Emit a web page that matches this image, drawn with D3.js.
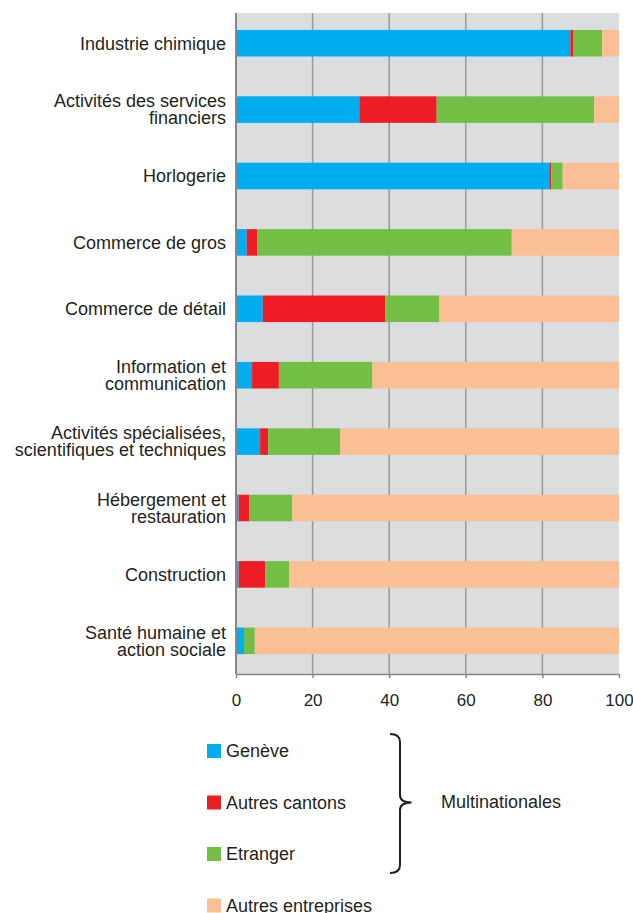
<!DOCTYPE html>
<html>
<head>
<meta charset="utf-8">
<script src="https://cdn.jsdelivr.net/npm/d3@7"></script>
<style>
  body { margin: 0; background: #fff; }
  svg { font-family: "Liberation Sans", Arial, sans-serif; }
</style>
</head>
<body>
<div id="okvir"></div>
<script>
const categories = [
  "Industrie chimique",
  "Activités des services|financiers",
  "Horlogerie",
  "Commerce de gros",
  "Commerce de détail",
  "Information et|communication",
  "Activités spécialisées,|scientifiques et techniques",
  "Hébergement et|restauration",
  "Construction",
  "Santé humaine et|action sociale"
]
const geneve        = [87.3, 32.2, 81.8, 2.8, 7.0, 4.2, 6.3, 0.7, 0.7, 2.1]
const autresCantons = [0.7, 20.2, 0.5, 2.7, 32.0, 7.0, 2.1, 2.7, 6.9, 0]
const etranger      = [7.6, 41.1, 3.0, 66.5, 14.1, 24.4, 18.8, 11.3, 6.3, 2.8]
const autresEntr    = [4.4, 6.5, 14.7, 28.0, 46.9, 64.4, 72.8, 85.3, 86.1, 95.1]
const seriesNames = ["Genève", "Autres cantons", "Etranger", "Autres entreprises"]
const xTicks = [0, 20, 40, 60, 80, 100]

const boje = ["#00AEEF", "#EE1C25", "#72BF44", "#FBBF96"]

const sirina = 633, visina = 913
const okvir = d3.select("#okvir").append("svg")
  .attr("width", sirina).attr("height", visina)

const x = d3.scaleLinear().domain([0, 100]).range([236, 619])
const y = d3.scaleBand().domain(categories).range([10, 674])
  .paddingInner(0.6).paddingOuter(0.3)

// pozadina
okvir.append("rect")
  .attr("x", x(0)).attr("y", 13)
  .attr("width", x(100) - x(0)).attr("height", 674 - 13)
  .attr("fill", "#DCDDDF")

// mreza
okvir.selectAll(".mreza").data(xTicks.slice(1, -1))
  .enter().append("line")
  .attr("x1", d => x(d)).attr("x2", d => x(d))
  .attr("y1", 13).attr("y2", 674)
  .attr("stroke", "#999").attr("stroke-width", 1.5)

// stacked bars
const tablica = categories.map((c, i) => ({
  kat: c, g: geneve[i], a: autresCantons[i], e: etranger[i], o: autresEntr[i]
}))
const stack = d3.stack().keys(["g", "a", "e", "o"])(tablica)

okvir.selectAll(".serija").data(stack).enter().append("g")
  .attr("fill", (d, i) => boje[i])
  .selectAll("rect").data(d => d).enter().append("rect")
  .attr("x", d => x(d[0]))
  .attr("width", d => x(d[1]) - x(d[0]))
  .attr("y", d => y(d.data.kat))
  .attr("height", y.bandwidth())

// lijeva os
okvir.append("line")
  .attr("x1", x(0)).attr("x2", x(0)).attr("y1", 13).attr("y2", 674)
  .attr("stroke", "#888").attr("stroke-width", 2)

// donja os
const xAxis = okvir.append("g")
  .attr("transform", "translate(0,674)")
  .call(d3.axisBottom(x).tickValues(xTicks).tickSize(4).tickSizeOuter(0).tickPadding(16))
xAxis.select(".domain").attr("stroke", "#888").attr("stroke-width", 1.5)
xAxis.selectAll(".tick line").attr("stroke", "#888").attr("stroke-width", 1.5)
xAxis.selectAll("text").attr("font-size", 17).attr("fill", "#231F20")
  .attr("font-family", "Liberation Sans, Arial, sans-serif")

// oznake kategorija
const oznake = okvir.selectAll(".oznaka").data(categories).enter().append("text")
  .attr("text-anchor", "end")
  .attr("font-size", 18)
  .attr("fill", "#231F20")
  .attr("x", 226)
  .attr("y", d => y(d) + y.bandwidth() / 2)
oznake.each(function(d) {
  const linije = d.split("|")
  const lh = 17
  const start = -(linije.length - 1) * lh / 2
  linije.forEach((l, j) => {
    d3.select(this).append("tspan")
      .attr("x", 226)
      .attr("y", y(d) + y.bandwidth() / 2 + start + j * lh)
      .attr("dy", "0.35em")
      .text(l)
  })
})

// legenda
const legenda = okvir.append("g")
seriesNames.forEach((s, i) => {
  const ly = 751 + i * 51.5
  legenda.append("rect")
    .attr("x", 207).attr("y", ly - 7).attr("width", 14).attr("height", 14)
    .attr("fill", boje[i])
  legenda.append("text")
    .attr("x", 226).attr("y", ly).attr("dy", "0.35em")
    .attr("font-size", 18).attr("fill", "#231F20")
    .text(s)
})

// viticasta zagrada
const zagrada = d3.path()
zagrada.moveTo(390, 734)
zagrada.quadraticCurveTo(400, 734, 400, 742)
zagrada.lineTo(400, 795)
zagrada.quadraticCurveTo(400, 802.5, 411.5, 802.5)
zagrada.quadraticCurveTo(400, 802.5, 400, 810)
zagrada.lineTo(400, 865)
zagrada.quadraticCurveTo(400, 873, 390, 873)
legenda.append("path")
  .attr("d", zagrada.toString())
  .attr("fill", "none").attr("stroke", "#231F20").attr("stroke-width", 2)

legenda.append("text")
  .attr("x", 441).attr("y", 802).attr("dy", "0.35em")
  .attr("font-size", 18).attr("fill", "#231F20")
  .text("Multinationales")
</script>
</body>
</html>
